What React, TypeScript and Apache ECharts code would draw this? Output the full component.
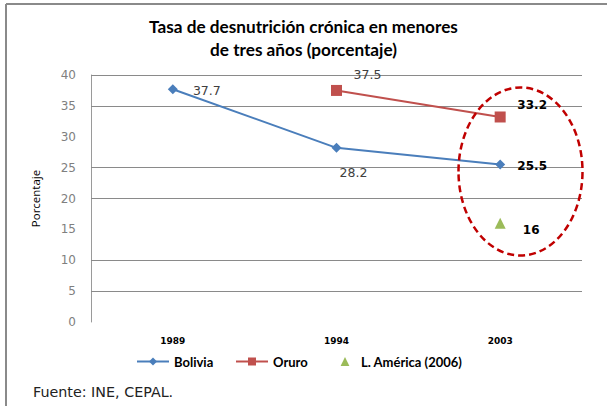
import React, { useEffect, useRef } from "react";
import * as echarts from "echarts";

const categories = ["1989", "1994", "2003"];
const bolivia = [37.7, 28.2, 25.5];
const oruro = [null, 37.5, 33.2];
const latam = [null, null, 16];
const yTicks = { min: 0, max: 40, interval: 5 };
const gridValues = [5, 10, 20, 25, 35, 40];

const boliviaLabels = [
  { offset: [34, 1], bold: false },
  { offset: [17, 25], bold: false },
  { offset: [32, 1], bold: true },
];
const oruroLabels = [
  null,
  { offset: [31, -16], bold: false },
  { offset: [32, -12], bold: true },
];
const latamLabels = [null, null, { offset: [31, 7], bold: true }];

function withLabels(values: (number | null)[], labels: any[]) {
  return values.map((v, i) => {
    if (v === null) return null;
    const l = labels[i];
    return {
      value: v,
      label: {
        show: true,
        position: "inside",
        offset: l.offset,
        fontFamily: "DejaVu Sans",
        fontSize: l.bold ? 12 : 12.5,
        fontWeight: l.bold ? "bold" : "normal",
        color: l.bold ? "#000" : "#404040",
      },
    };
  });
}

export default function App() {
  const ref = useRef<HTMLDivElement>(null);
  useEffect(() => {
    if (!ref.current) return;
    const chart = echarts.init(ref.current, null, { renderer: "svg" });
    const legendText = {
      fontFamily: "Lato",
      fontSize: 13,
      fontWeight: "bold",
      color: "#000",
    };
    chart.setOption({
      animation: false,
      backgroundColor: "#fff",
      title: {
        text: "Tasa de desnutrición crónica en menores\nde tres años (porcentaje)",
        left: "center",
        top: 10,
        textStyle: {
          fontFamily: "Lato",
          fontSize: 17.2,
          fontWeight: "bold",
          color: "#000",
          lineHeight: 23,
        },
      },
      grid: { left: 91, right: 25, top: 75, bottom: 84, containLabel: false },
      legend: [
        {
          left: 131,
          top: 350,
          itemWidth: 32,
          itemHeight: 10,
          data: ["Bolivia"],
          textStyle: legendText,
        },
        {
          left: 230,
          top: 350,
          itemWidth: 32,
          itemHeight: 10,
          data: ["Oruro"],
          textStyle: legendText,
        },
        {
          left: 333,
          top: 350,
          itemWidth: 14,
          itemHeight: 11,
          data: ["L. América (2006)"],
          textStyle: { ...legendText, padding: [0, 0, 0, 4] },
        },
      ],
      xAxis: {
        type: "category",
        data: categories,
        boundaryGap: true,
        axisLine: { show: false },
        axisTick: { show: false },
        axisLabel: {
          margin: 14,
          fontFamily: "DejaVu Sans",
          fontSize: 9,
          fontWeight: "bold",
          color: "#000",
        },
      },
      yAxis: {
        type: "value",
        min: yTicks.min,
        max: yTicks.max,
        interval: yTicks.interval,
        name: "Porcentaje",
        nameLocation: "middle",
        nameGap: 50,
        nameTextStyle: { fontFamily: "Open Sans", fontSize: 11.5, color: "#000" },
        axisLine: { show: true, lineStyle: { color: "#9a9a9a", width: 1 } },
        axisTick: { show: false },
        axisLabel: {
          margin: 15,
          fontFamily: "DejaVu Sans",
          fontSize: 12,
          color: "#7f7f7f",
        },
        splitLine: { show: false },
      },
      series: [
        {
          name: "Bolivia",
          type: "line",
          data: withLabels(bolivia, boliviaLabels),
          symbol: "diamond",
          symbolSize: 10,
          itemStyle: { color: "#4a7ebb" },
          lineStyle: { color: "#4a7ebb", width: 2 },
          z: 3,
          markLine: {
            silent: true,
            symbol: "none",
            label: { show: false },
            lineStyle: { color: "#8a8a8a", width: 1, type: "solid" },
            z: 1,
            data: gridValues.map((v) => ({ yAxis: v })),
          },
        },
        {
          name: "Oruro",
          type: "line",
          data: withLabels(oruro, oruroLabels),
          symbol: "rect",
          symbolSize: 11,
          itemStyle: { color: "#c0504d" },
          lineStyle: { color: "#c0504d", width: 2 },
          z: 3,
        },
        {
          name: "L. América (2006)",
          type: "line",
          data: withLabels(latam, latamLabels),
          symbol: "triangle",
          symbolSize: 11,
          itemStyle: { color: "#9bbb59" },
          lineStyle: { width: 0, opacity: 0 },
          showAllSymbol: true,
          z: 3,
        },
      ],
      graphic: [
        {
          type: "line",
          shape: { x1: 6, y1: 4, x2: 607, y2: 4 },
          style: { stroke: "#8a8a8a", lineWidth: 2 },
        },
        {
          type: "line",
          shape: { x1: 6, y1: 4, x2: 6, y2: 406 },
          style: { stroke: "#8a8a8a", lineWidth: 2 },
        },
        {
          type: "ellipse",
          shape: { cx: 520.5, cy: 171.5, rx: 62, ry: 84 },
          style: {
            fill: "none",
            stroke: "#c00000",
            lineWidth: 2.5,
            lineDash: [7, 4],
          },
          z: 10,
        },
        {
          type: "text",
          left: 33,
          top: 385,
          style: {
            text: "Fuente: INE, CEPAL.",
            fontFamily: "DejaVu Sans",
            fontSize: 14.3,
            fill: "#222",
          },
        },
      ],
    });
    return () => chart.dispose();
  }, []);
  return (
    <div
      ref={ref}
      style={{ position: "absolute", left: 0, top: 0, width: 607, height: 406 }}
    />
  );
}
